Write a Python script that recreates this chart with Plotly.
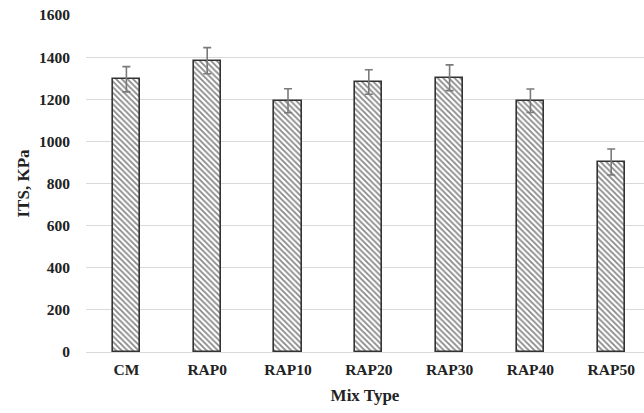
import plotly.graph_objects as go

categories = ["CM", "RAP0", "RAP10", "RAP20", "RAP30", "RAP40", "RAP50"]
its_values = [1295, 1383, 1193, 1282, 1302, 1193, 902]
its_errors = [60, 62, 57, 58, 61, 56, 62]
y_ticks = [0, 200, 400, 600, 800, 1000, 1200, 1400, 1600]

FONT = "Liberation Serif"

fig = go.Figure()
fig.add_trace(go.Bar(
    x=list(range(len(categories))),
    y=its_values,
    width=0.335,
    marker=dict(
        color="white",
        line=dict(color="#333333", width=1.6),
        pattern=dict(shape="\\", fgcolor="#111111", bgcolor="white", size=4, solidity=0.45),
    ),
    error_y=dict(type="data", array=its_errors, visible=True, color="#7a7a7a", thickness=1.6, width=4),
))

fig.update_layout(
    width=644, height=413,
    margin=dict(l=86, r=0, t=15, b=61),
    plot_bgcolor="white", paper_bgcolor="white",
    showlegend=False,
    font=dict(family=FONT, color="#222222"),
    bargap=0,
)
fig.update_xaxes(
    automargin=False,
    range=[-0.5, 6.406],
    tickmode="array",
    tickvals=list(range(len(categories))),
    ticktext=categories,
    tickfont=dict(family=FONT, size=15.5, color="#222222", weight="bold"),
    showgrid=False,
    showline=False,
    zeroline=False,
    ticks="",
    ticklabelstandoff=6,
    title=dict(text="<b>Mix Type</b>", font=dict(family=FONT, size=17, color="#222222"), standoff=12),
)
fig.update_yaxes(
    automargin=False,
    range=[0, 1600],
    tickmode="array",
    tickvals=y_ticks,
    tickfont=dict(family=FONT, size=15.5, color="#222222", weight="bold"),
    showgrid=True, gridcolor="#d9d9d9", gridwidth=1.2,
    zeroline=True, zerolinecolor="#d9d9d9", zerolinewidth=1.2,
    showline=False,
    ticks="",
    ticklabelstandoff=15,
    title=dict(text="<b>ITS, KPa</b>", font=dict(family=FONT, size=17, color="#222222"), standoff=5),
)

fig.write_html(
    "out.html",
    config={"displayModeBar": False},
    post_script="document.body.style.margin='0';document.body.style.overflow='hidden';",
)
